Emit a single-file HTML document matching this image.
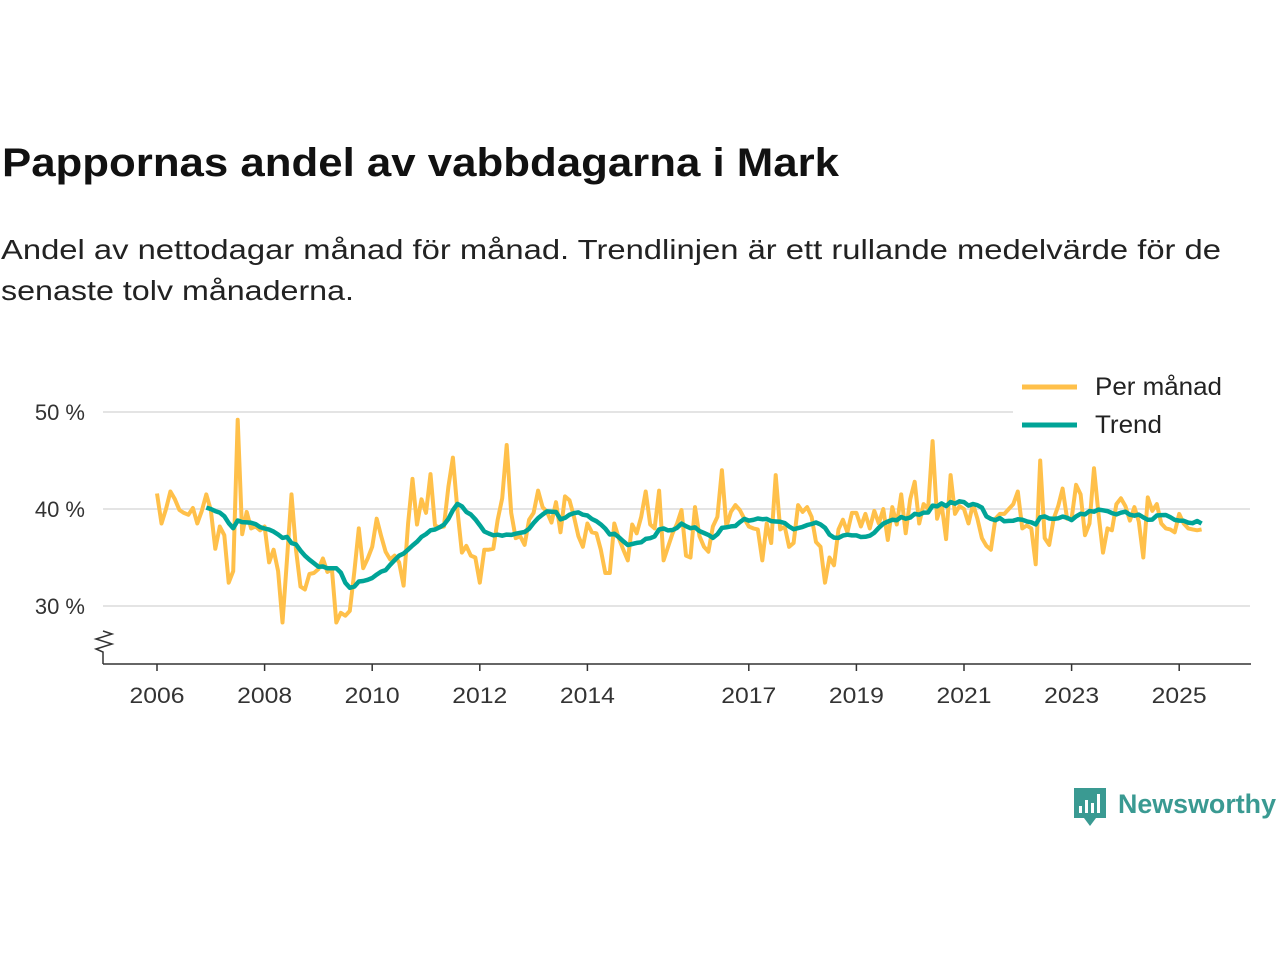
<!DOCTYPE html>
<html><head><meta charset="utf-8">
<style>
body{margin:0;background:#fff;font-family:"Liberation Sans",sans-serif;}
svg{display:block}
</style></head>
<body>
<svg id="chart" width="1280" height="960" viewBox="0 0 1280 960">
<text x="2" y="176" font-size="40" font-weight="bold" fill="#111" textLength="837" lengthAdjust="spacingAndGlyphs">Pappornas andel av vabbdagarna i Mark</text>
<text x="1" y="259" font-size="28" fill="#222" textLength="1220" lengthAdjust="spacingAndGlyphs">Andel av nettodagar månad för månad. Trendlinjen är ett rullande medelvärde för de</text>
<text x="1" y="300" font-size="28" fill="#222" textLength="353" lengthAdjust="spacingAndGlyphs">senaste tolv månaderna.</text>
<g id="grid"></g>
<g id="yaxis"></g>
<g id="xaxis"></g>
<path d="M103,664 L103,652 L96,649 L112,644 L96,639 L112,634 L103,631" fill="none" stroke="#333" stroke-width="1.5"/>
<g id="series"></g>
<g>
<rect x="1013" y="368" width="240" height="76" fill="#fff"/>
<line x1="1022" y1="387" x2="1077" y2="387" stroke="#ffc04a" stroke-width="5"/>
<text x="1095" y="395" font-size="25" fill="#222" textLength="127" lengthAdjust="spacingAndGlyphs">Per månad</text>
<line x1="1022" y1="425" x2="1077" y2="425" stroke="#00a497" stroke-width="5"/>
<text x="1095" y="433" font-size="25" fill="#222" textLength="67" lengthAdjust="spacingAndGlyphs">Trend</text>
</g>
<g>
<path d="M1074,788 h32 v30 h-10 l-6,8 l-6,-8 h-10 z" fill="#3a9a92"/>
<rect x="1079" y="806" width="3" height="7" fill="#fff"/><rect x="1085" y="800" width="3" height="13" fill="#fff"/><rect x="1091" y="803" width="3" height="10" fill="#fff"/><rect x="1097" y="794" width="3" height="19" fill="#fff"/>
<text x="1118" y="813" font-size="27" font-weight="bold" fill="#3a9a92" textLength="158" lengthAdjust="spacingAndGlyphs">Newsworthy</text>
</g>
</svg>
<script>
const monthlyValues = [
41.6,38.5,40,41.8,41,39.9,39.6,39.4,40.1,38.5,39.8,41.5,
39.9,35.9,38.2,37.3,32.4,33.6,49.2,37.4,39.7,38,38.2,37.8,
38.2,34.5,35.8,33.6,28.3,34.8,41.5,35.8,32,31.7,33.3,33.4,
33.8,34.9,33.5,33.8,28.3,29.3,29,29.5,33.5,38,33.9,34.9,
36.1,39,37.2,35.6,34.8,35.2,34.5,32.1,38.5,43.1,38.4,41,
39.6,43.6,38.3,38.1,38.2,42.3,45.3,39.9,35.5,36.2,35.2,35,
32.4,35.8,35.8,35.9,38.9,41.1,46.6,39.6,37,37.2,36.3,38.9,
39.6,41.9,40.2,39.7,38.6,40.7,37.6,41.3,40.9,39.2,37.2,36.1,
38.5,37.6,37.5,35.8,33.4,33.4,38.5,37,35.8,34.7,38.4,37.5,
39.2,41.8,38.4,38,41.9,34.7,36.1,37.5,38.5,39.9,35.2,35,
40.2,37.2,36.1,35.6,38.2,39.2,44,38.2,39.7,40.4,39.9,39,
38.2,38,37.9,34.7,38.5,36.5,43.5,37.9,38.2,36.1,36.5,40.4,
39.7,40.2,39.2,36.6,36.1,32.4,35,34.2,37.9,38.9,
37.6,39.6,39.6,38.2,39.5,38,39.8,38.5,40,36.8,40.2,38.4,41.5,37.5,41,42.8,38.5,40.5,40,47,39,40.5,36.9,43.5,
39.5,40.3,40,38.5,40.5,39,37,36.2,35.8,39,39.5,39.5,40,40.5,41.8,38,38.3,38,34.3,45,37,36.3,39,40.3,
42.1,39,39,42.5,41.5,37.3,38.5,44.2,39.5,35.5,38,37.8,40.5,41.1,40.3,38.8,40.2,38.7,35,41.2,39.8,40.5,38.5,38,
37.9,37.6,39.5,38.5,38,37.9,37.8,37.9
];
const startYear = 2006;
const yTicks = [30,40,50];
const xTickYears = [2006,2008,2010,2012,2014,2017,2019,2021,2023,2025];
const NS="http://www.w3.org/2000/svg";
const x0=157, pxPerYear=53.8, yBase=509, pxPerPct=9.7;
const xScale = m => x0 + m*pxPerYear/12;
const yScale = v => yBase - (v-40)*pxPerPct;
function mk(tag, attrs, parent){const e=document.createElementNS(NS,tag);for(const k in attrs)e.setAttribute(k,attrs[k]);parent.appendChild(e);return e;}
const grid=document.getElementById('grid'), ya=document.getElementById('yaxis'), xa=document.getElementById('xaxis'), ser=document.getElementById('series');
yTicks.forEach(t=>{
  const l=mk('line',{x1:103,x2:1250,y1:yScale(t),y2:yScale(t),stroke:'#dcdcdc','stroke-width':1.5},grid);
  
  
  const tx=mk('text',{x:85,y:yScale(t)+8,'font-size':22,fill:'#333','text-anchor':'end'},ya);
  tx.textContent=t+' %';
  
  
});
const ax=mk('line',{x1:103,x2:1251,y1:664,y2:664,stroke:'#333','stroke-width':1.5},xa);


xTickYears.forEach(yr=>{
  const x=xScale((yr-startYear)*12);
  const tk=mk('line',{x1:x,x2:x,y1:664,y2:671,stroke:'#333','stroke-width':1.5},xa);
  
  
  const tx=mk('text',{x:x,y:703,'font-size':22,fill:'#333','text-anchor':'middle',textLength:55,lengthAdjust:'spacingAndGlyphs'},xa);
  tx.textContent=yr;
  
  
});
const trendValues=[];
for(let i=11;i<monthlyValues.length;i++){let s=0;for(let j=i-11;j<=i;j++)s+=monthlyValues[j];trendValues.push([i,s/12]);}
const p1=mk('path',{d:monthlyValues.map((v,i)=>(i?'L':'M')+xScale(i).toFixed(1)+','+yScale(v).toFixed(1)).join(''),fill:'none',stroke:'#ffc04a','stroke-width':4,'stroke-linejoin':'round'},ser);


const p2=mk('path',{d:trendValues.map((p,k)=>(k?'L':'M')+xScale(p[0]).toFixed(1)+','+yScale(p[1]).toFixed(1)).join(''),fill:'none',stroke:'#00a497','stroke-width':4.5,'stroke-linejoin':'round'},ser);


</script>
</body></html>
